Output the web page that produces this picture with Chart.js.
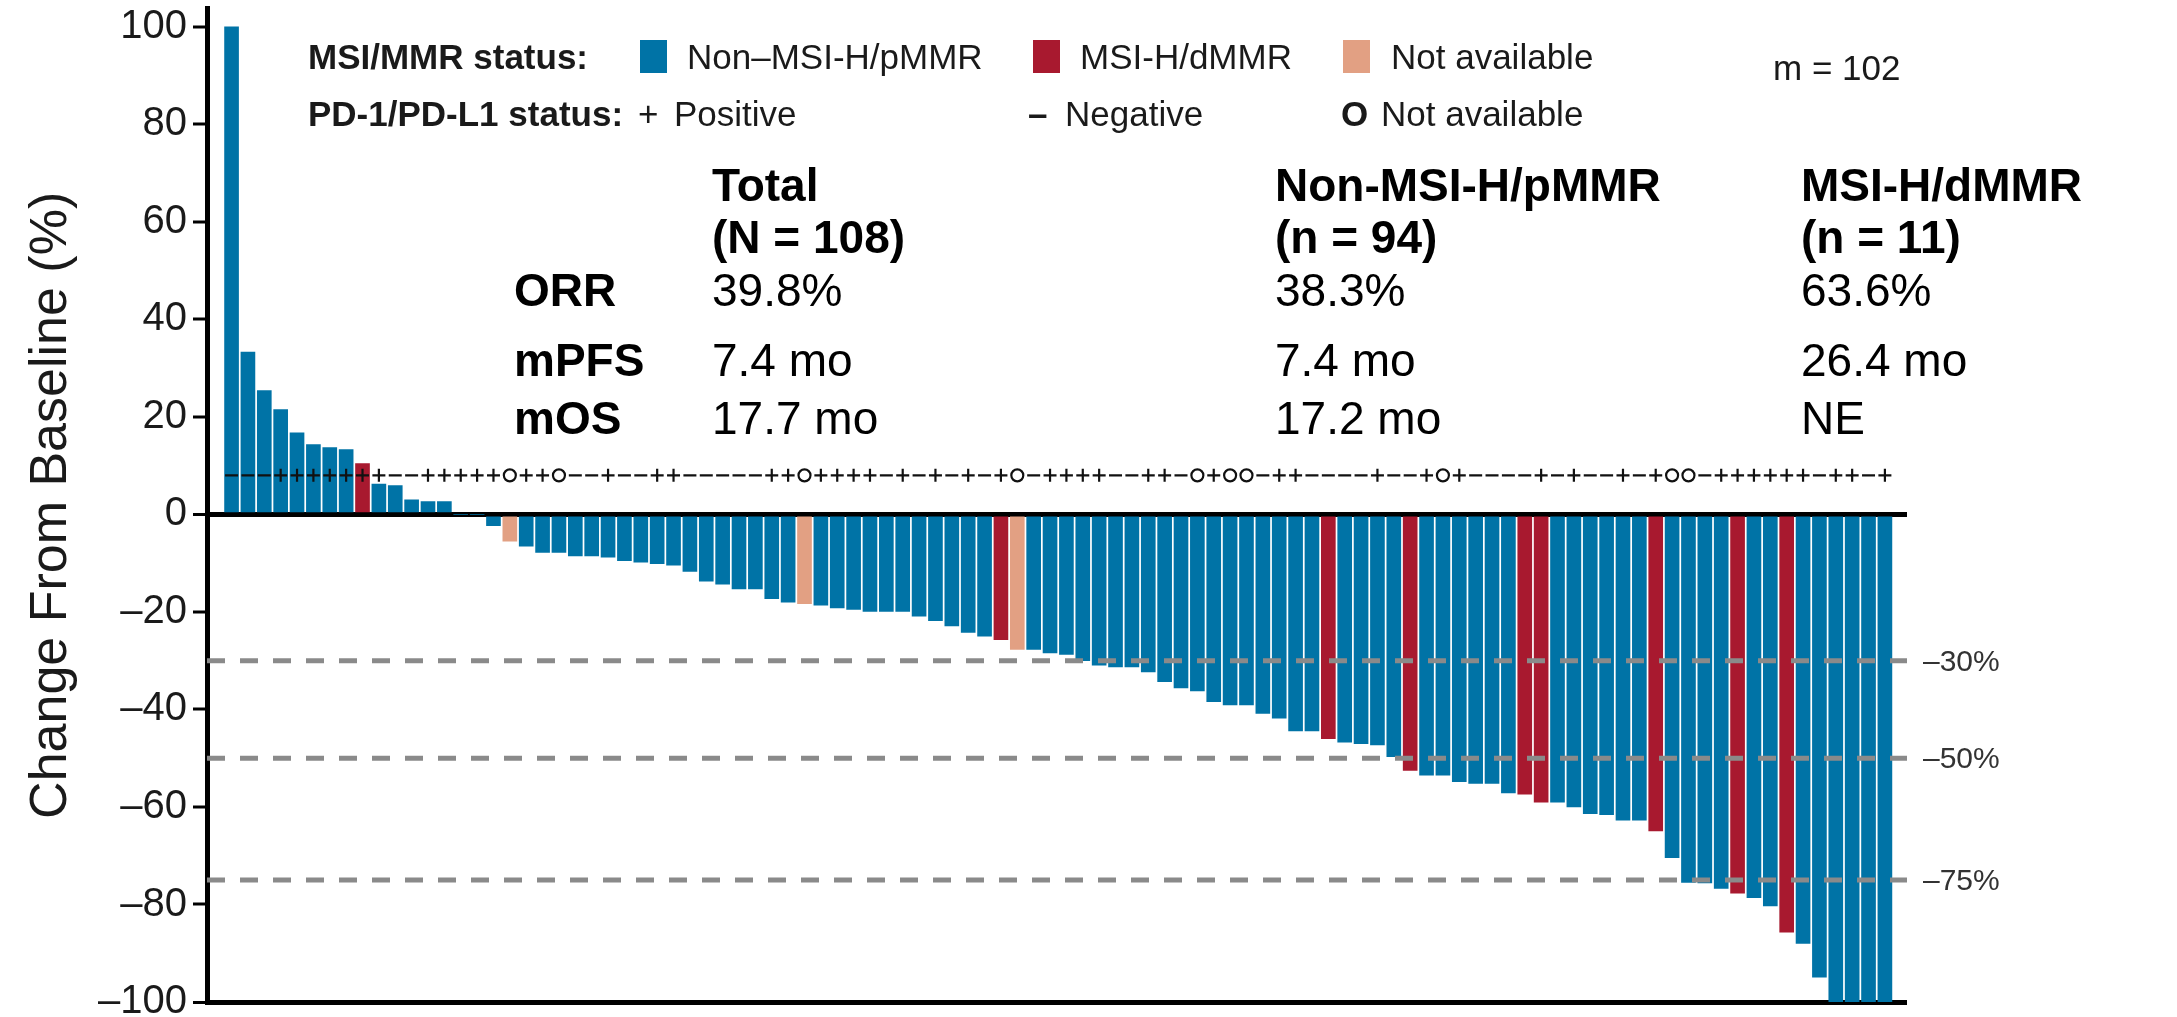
<!DOCTYPE html>
<html>
<head>
<meta charset="utf-8">
<script src="https://cdn.jsdelivr.net/npm/chart.js@4.4.1/dist/chart.umd.min.js"></script>
<style>
  body { margin: 0; background: #fff; }
  #wrap { position: relative; width: 2177px; height: 1017px; overflow: hidden;
          font-family: "Liberation Sans", Arial, sans-serif; color: #1a1a1a; }
  #chart { position: absolute; left: 0; top: 0; }
  .t { position: absolute; white-space: nowrap; line-height: 1; transform: translateY(-50%); }
  .leg { font-size: 35px; }
  .b { font-weight: bold; }
  .sw { position: absolute; width: 27px; height: 33px; }
  .stat { font-size: 46px; color: #000; }
  .thr { font-size: 30px; color: #333; }
</style>
</head>
<body>
<div id="wrap">
  <canvas id="chart" width="2177" height="1017"></canvas>

  <!-- legend -->
  <div class="t leg b" style="left:308px; top:56px;">MSI/MMR status:</div>
  <div class="sw" id="swP" style="left:640px; top:40px;"></div>
  <div class="t leg" style="left:687px; top:56px;">Non–MSI-H/pMMR</div>
  <div class="sw" id="swD" style="left:1033px; top:40px;"></div>
  <div class="t leg" style="left:1080px; top:56px;">MSI-H/dMMR</div>
  <div class="sw" id="swN" style="left:1343px; top:40px;"></div>
  <div class="t leg" style="left:1391px; top:56px;">Not available</div>
  <div class="t leg" style="left:1773px; top:67px;">m = 102</div>

  <div class="t leg b" style="left:308px; top:113px;">PD-1/PD-L1 status:</div>
  <div class="t leg" style="left:638px; top:113px;">+</div>
  <div class="t leg" style="left:674px; top:113px;">Positive</div>
  <div class="t leg b" style="left:1028px; top:113px;">–</div>
  <div class="t leg" style="left:1065px; top:113px;">Negative</div>
  <div class="t leg b" style="left:1341px; top:113px;">O</div>
  <div class="t leg" style="left:1381px; top:113px;">Not available</div>

  <!-- summary table -->
  <div class="t stat b" style="left:712px; top:185px;">Total</div>
  <div class="t stat b" style="left:712px; top:237px;">(N = 108)</div>
  <div class="t stat b" style="left:1275px; top:185px;">Non-MSI-H/pMMR</div>
  <div class="t stat b" style="left:1275px; top:237px;">(n = 94)</div>
  <div class="t stat b" style="left:1801px; top:185px;">MSI-H/dMMR</div>
  <div class="t stat b" style="left:1801px; top:237px;">(n = 11)</div>

  <div class="t stat b" style="left:514px; top:290px;">ORR</div>
  <div class="t stat" style="left:712px; top:290px;">39.8%</div>
  <div class="t stat" style="left:1275px; top:290px;">38.3%</div>
  <div class="t stat" style="left:1801px; top:290px;">63.6%</div>

  <div class="t stat b" style="left:514px; top:360px;">mPFS</div>
  <div class="t stat" style="left:712px; top:360px;">7.4 mo</div>
  <div class="t stat" style="left:1275px; top:360px;">7.4 mo</div>
  <div class="t stat" style="left:1801px; top:360px;">26.4 mo</div>

  <div class="t stat b" style="left:514px; top:418px;">mOS</div>
  <div class="t stat" style="left:712px; top:418px;">17.7 mo</div>
  <div class="t stat" style="left:1275px; top:418px;">17.2 mo</div>
  <div class="t stat" style="left:1801px; top:418px;">NE</div>
</div>

<script>
// best % change from baseline, one bar per patient (m = 102), sorted
const pctChange = [
  100, 33.3, 25.4, 21.5, 16.7, 14.3, 13.7, 13.3, 10.4, 6.2,
  5.9, 3.0, 2.6, 2.6, 0, 0, -2.3, -5.5, -6.5, -7.8,
  -7.8, -8.5, -8.5, -8.8, -9.5, -9.8, -10.1, -10.4, -11.7, -13.7,
  -14.3, -15.3, -15.3, -17.3, -18.0, -18.3, -18.6, -19.2, -19.5, -19.9,
  -19.9, -19.9, -20.9, -21.8, -22.9, -24.2, -25.0, -25.7, -27.7, -27.7,
  -28.4, -28.7, -30.0, -30.9, -31.3, -31.3, -32.3, -34.3, -35.6, -36.2,
  -38.4, -39.1, -39.1, -40.8, -41.8, -44.4, -44.4, -46.0, -46.7, -47.0,
  -47.3, -49.7, -52.5, -53.5, -53.5, -54.8, -55.2, -55.2, -57.1, -57.4,
  -59.0, -59.0, -60.0, -61.4, -61.6, -62.7, -62.7, -64.9, -70.4, -75.5,
  -75.6, -76.7, -77.7, -78.6, -80.3, -85.7, -88.0, -94.9, -100, -100,
  -100, -100
];

// MSI/MMR: p = non-MSI-H/pMMR, d = MSI-H/dMMR, n = not available
const msiStatus = [
  'p','p','p','p','p','p','p','p','d','p',
  'p','p','p','p','p','p','p','n','p','p',
  'p','p','p','p','p','p','p','p','p','p',
  'p','p','p','p','p','n','p','p','p','p',
  'p','p','p','p','p','p','p','d','n','p',
  'p','p','p','p','p','p','p','p','p','p',
  'p','p','p','p','p','p','p','d','p','p',
  'p','p','d','p','p','p','p','p','p','d',
  'd','p','p','p','p','p','p','d','p','p',
  'p','p','d','p','p','d','p','p','p','p',
  'p','p'
];

// PD-1/PD-L1: + positive, - negative, O not available
const pdStatus = [
  '-','-','-','+','+','+','+','+','+','+',
  '-','-','+','+','+','+','+','O','+','+',
  'O','-','-','+','-','-','+','+','-','-',
  '-','-','-','+','+','O','+','+','+','+',
  '-','+','-','+','-','+','-','+','O','-',
  '+','+','+','+','-','-','+','+','-','O',
  '+','O','O','-','+','+','-','-','-','-',
  '+','-','-','+','O','+','-','-','-','-',
  '+','-','+','-','-','+','-','+','O','O',
  '-','+','+','+','+','+','+','-','+','+',
  '-','+'
];

const thresholds = [-30, -50, -75];
const yTickValues = [-100, -80, -60, -40, -20, 0, 20, 40, 60, 80, 100];

const colors = { p: '#0073a6', d: '#a8192f', n: '#e2a083' };
const pdStyles = { '+': 'cross', '-': 'line', 'O': 'circle' };

const X_MIN = -0.5, X_MAX = 103.35;
const Y_MIN = -100, Y_MAX = 103.7;
const SYMBOL_Y = 8.0;
const AXIS_LEFT = 207;

document.getElementById('swP').style.background = colors.p;
document.getElementById('swD').style.background = colors.d;
document.getElementById('swN').style.background = colors.n;

Chart.defaults.font.family = "'Liberation Sans', Arial, sans-serif";

const minus = v => v < 0 ? '\u2013' + Math.abs(v) : String(v);
const isFrame = v => v === 0 || v === -100;

const symbolSet = {
  type: 'scatter',
  data: pdStatus.map((s, i) => ({ x: i + 1, y: SYMBOL_Y })),
  pointStyle: ctx => pdStyles[pdStatus[ctx.dataIndex]],
  pointRadius: ctx => pdStatus[ctx.dataIndex] === 'O' ? 6 : 6.5,
  pointBorderColor: '#111',
  pointBackgroundColor: 'rgba(0,0,0,0)',
  pointBorderWidth: 2.2,
  showLine: false
};

const thresholdSets = thresholds.map(t => ({
  type: 'line',
  data: [{ x: X_MIN, y: t }, { x: X_MAX, y: t }],
  borderColor: '#8a8a8a',
  borderWidth: 5,
  borderDash: [18, 15],
  pointRadius: 0,
  fill: false
}));

const barSet = {
  type: 'bar',
  data: pctChange.map((v, i) => ({ x: i + 1, y: v })),
  backgroundColor: msiStatus.map(s => colors[s]),
  borderWidth: 0,
  barThickness: 14
};

const chart = new Chart(document.getElementById('chart'), {
  type: 'bar',
  data: { datasets: [symbolSet, ...thresholdSets, barSet] },
  options: {
    responsive: false,
    animation: false,
    events: [],
    devicePixelRatio: 1,
    layout: { padding: { left: 0, right: 2177 - 1907, top: 7, bottom: 15 } },
    plugins: { legend: { display: false }, tooltip: { enabled: false } },
    scales: {
      x: { type: 'linear', min: X_MIN, max: X_MAX, offset: false, display: false },
      y: {
        type: 'linear',
        min: Y_MIN,
        max: Y_MAX,
        z: 1,
        afterBuildTicks: s => { s.ticks = yTickValues.map(v => ({ value: v })); },
        afterFit: s => {
          s.width = AXIS_LEFT;
          // let the plot run to the padding edges, labels may overhang
          s.paddingTop = 0;
          s.paddingBottom = 0;
        },
        ticks: {
          padding: 6,
          color: '#1a1a1a',
          font: { size: 40, lineHeight: 0.3 },
          callback: v => minus(v)
        },
        grid: {
          color: ctx => (ctx.tick && isFrame(ctx.tick.value)) ? '#000' : 'rgba(0,0,0,0)',
          lineWidth: ctx => (ctx.tick && isFrame(ctx.tick.value)) ? 5 : 0,
          tickColor: '#000',
          tickWidth: 3,
          tickLength: 14
        },
        border: { display: true, color: '#000', width: 5 },
        title: {
          display: true,
          text: 'Change From Baseline (%)',
          color: '#1a1a1a',
          font: { size: 52 },
          padding: { top: 20, bottom: 0 }
        }
      }
    }
  }
});

// threshold labels on the right, placed with the y scale
const wrap = document.getElementById('wrap');
thresholds.forEach(t => {
  const el = document.createElement('div');
  el.className = 't thr';
  el.style.left = '1923px';
  el.style.top = chart.scales.y.getPixelForValue(t) + 'px';
  el.textContent = minus(t) + '%';
  wrap.appendChild(el);
});
</script>
</body>
</html>
